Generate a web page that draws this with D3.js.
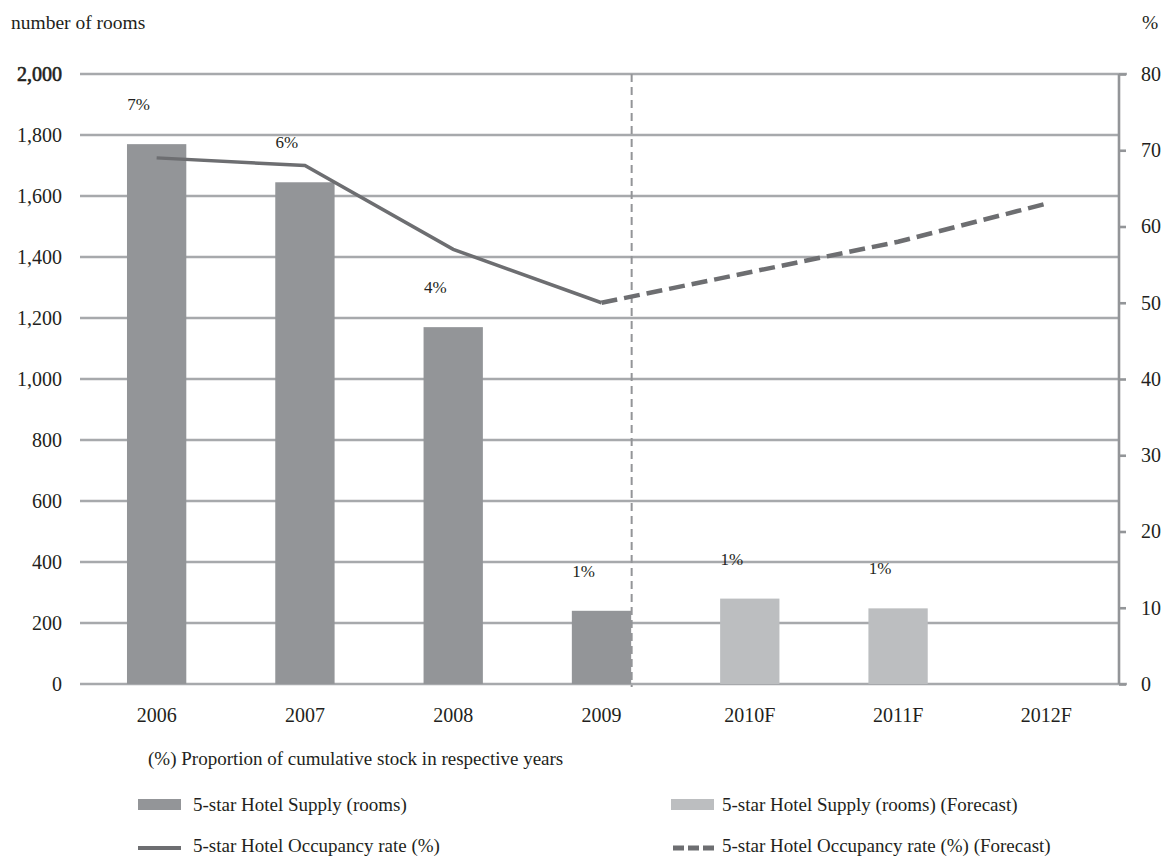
<!DOCTYPE html>
<html>
<head>
<meta charset="utf-8">
<script src="https://cdn.jsdelivr.net/npm/d3@7"></script>
<style>
  html, body { margin: 0; padding: 0; background: #fff; }
  svg text { font-family: "Liberation Serif", "DejaVu Serif", serif; fill: #231f20; }
</style>
</head>
<body>
<svg id="chart" width="1165" height="857"></svg>
<script>
const categories = ["2006", "2007", "2008", "2009", "2010F", "2011F", "2012F"];
const supplyRooms = [1770, 1645, 1170, 240, null, null, null];
const supplyForecast = [null, null, null, null, 280, 248, null];
const occupancy = [69, 68, 57, 50, null, null, null];
const occupancyForecast = [null, null, null, 50, 54, 58, 63];
const shareLabels = ["7%", "6%", "4%", "1%", "1%", "1%", null];
const leftTicks = [0, 200, 400, 600, 800, 1000, 1200, 1400, 1600, 1800, 2000];
const rightTicks = [0, 10, 20, 30, 40, 50, 60, 70, 80];

const svg = d3.select("#chart");
const FONT = "Liberation Serif";
const pLeft = 80, pRight = 1119, pTop = 74, pBottom = 684;

const x = d3.scaleBand().domain(categories).range([82.5, 1120.5]).paddingInner(0.6).paddingOuter(0.3);
const yL = d3.scaleLinear().domain([0, 2000]).range([pBottom, pTop]);
const yR = d3.scaleLinear().domain([0, 80]).range([pBottom, pTop]);

const gridColor = "#a7a9ac";
const darkBar = "#939598";
const lightBar = "#bcbec0";
const lineColor = "#6d6e71";
const textColor = "#231f20";

function txt(sel, size) {
  return sel.attr("font-family", FONT).style("font-family", FONT).attr("font-size", size).attr("fill", textColor);
}

// gridlines
svg.append("g").selectAll("line").data(leftTicks).join("line")
  .attr("x1", pLeft).attr("x2", d => (d === 2000 || d === 0) ? pRight + 8 : pRight)
  .attr("y1", d => yL(d)).attr("y2", d => yL(d))
  .attr("stroke", gridColor).attr("stroke-width", 2.6);

// left axis labels
const axL = svg.append("g").attr("transform", `translate(${pLeft},0)`)
  .call(d3.axisLeft(yL).tickValues(leftTicks).tickSize(0).tickPadding(18).tickFormat(d3.format(",")));
axL.attr("font-family", FONT);
axL.select(".domain").remove();
txt(axL.selectAll("text"), 20)
  .filter(d => d === 2000).attr("stroke", textColor).attr("stroke-width", 0.6);

// right axis
const axR = svg.append("g").attr("transform", `translate(${pRight},0)`)
  .call(d3.axisRight(yR).tickValues(rightTicks).tickSize(7).tickPadding(15));
axR.attr("font-family", FONT);
axR.select(".domain").attr("stroke", darkBar).attr("stroke-width", 2.6).attr("d", `M0,${pTop}V${pBottom}`);
axR.selectAll(".tick line").attr("stroke", darkBar).attr("stroke-width", 2.6);
txt(axR.selectAll("text"), 20);

// bars
svg.append("g").selectAll("rect").data(categories.map((c, i) => ({c, v: supplyRooms[i]})).filter(d => d.v != null))
  .join("rect")
  .attr("x", d => x(d.c)).attr("width", x.bandwidth())
  .attr("y", d => yL(d.v)).attr("height", d => yL(0) - yL(d.v))
  .attr("fill", darkBar);
svg.append("g").selectAll("rect").data(categories.map((c, i) => ({c, v: supplyForecast[i]})).filter(d => d.v != null))
  .join("rect")
  .attr("x", d => x(d.c)).attr("width", x.bandwidth())
  .attr("y", d => yL(d.v)).attr("height", d => yL(0) - yL(d.v))
  .attr("fill", lightBar);

// vertical forecast divider
const divX = x("2009") + x.bandwidth() + 0.5;
svg.append("line").attr("x1", divX).attr("x2", divX).attr("y1", pTop).attr("y2", pBottom + 3)
  .attr("stroke", darkBar).attr("stroke-width", 2).attr("stroke-dasharray", "8,5");

// share labels
const cx = c => x(c) + x.bandwidth() / 2;
const barVal = i => supplyRooms[i] != null ? supplyRooms[i] : supplyForecast[i];
txt(svg.append("g").selectAll("text").data(categories.map((c, i) => ({c, t: shareLabels[i], v: barVal(i)})).filter(d => d.t))
  .join("text"), 17)
  .attr("x", d => cx(d.c) - 18).attr("y", d => yL(d.v) - 34)
  .attr("text-anchor", "middle").text(d => d.t);

// lines
const lineGen = d3.line().defined(d => d.v != null).x(d => cx(d.c)).y(d => yR(d.v));
svg.append("path").datum(categories.map((c, i) => ({c, v: occupancy[i]})))
  .attr("d", lineGen).attr("fill", "none").attr("stroke", lineColor).attr("stroke-width", 3.5);
svg.append("path").datum(categories.map((c, i) => ({c, v: occupancyForecast[i]})))
  .attr("d", lineGen).attr("fill", "none").attr("stroke", lineColor).attr("stroke-width", 4.5)
  .attr("stroke-dasharray", "16,7");

// x labels
txt(svg.append("g").selectAll("text").data(categories).join("text"), 20)
  .attr("x", d => cx(d)).attr("y", 722).attr("text-anchor", "middle").text(d => d);

// titles
txt(svg.append("text"), 19.5).attr("x", 11).attr("y", 29).text("number of rooms");
txt(svg.append("text"), 19.5).attr("x", 1142).attr("y", 29).text("%");
txt(svg.append("text"), 19).attr("x", 148).attr("y", 765).text("(%) Proportion of cumulative stock in respective years");

// legend
const lg = svg.append("g");
lg.append("rect").attr("x", 138).attr("y", 799).attr("width", 43).attr("height", 11).attr("fill", darkBar);
txt(lg.append("text"), 19).attr("x", 193).attr("y", 811).text("5-star Hotel Supply (rooms)");
lg.append("rect").attr("x", 671).attr("y", 799).attr("width", 43).attr("height", 11).attr("fill", lightBar);
txt(lg.append("text"), 19).attr("x", 722).attr("y", 811).text("5-star Hotel Supply (rooms) (Forecast)");
lg.append("line").attr("x1", 138).attr("x2", 181).attr("y1", 848).attr("y2", 848).attr("stroke", lineColor).attr("stroke-width", 4);
txt(lg.append("text"), 19).attr("x", 193).attr("y", 852).text("5-star Hotel Occupancy rate (%)");
lg.append("line").attr("x1", 673).attr("x2", 714).attr("y1", 848).attr("y2", 848).attr("stroke", lineColor).attr("stroke-width", 5).attr("stroke-dasharray", "11,4");
txt(lg.append("text"), 19).attr("x", 722).attr("y", 852).text("5-star Hotel Occupancy rate (%) (Forecast)");
</script>
</body>
</html>
